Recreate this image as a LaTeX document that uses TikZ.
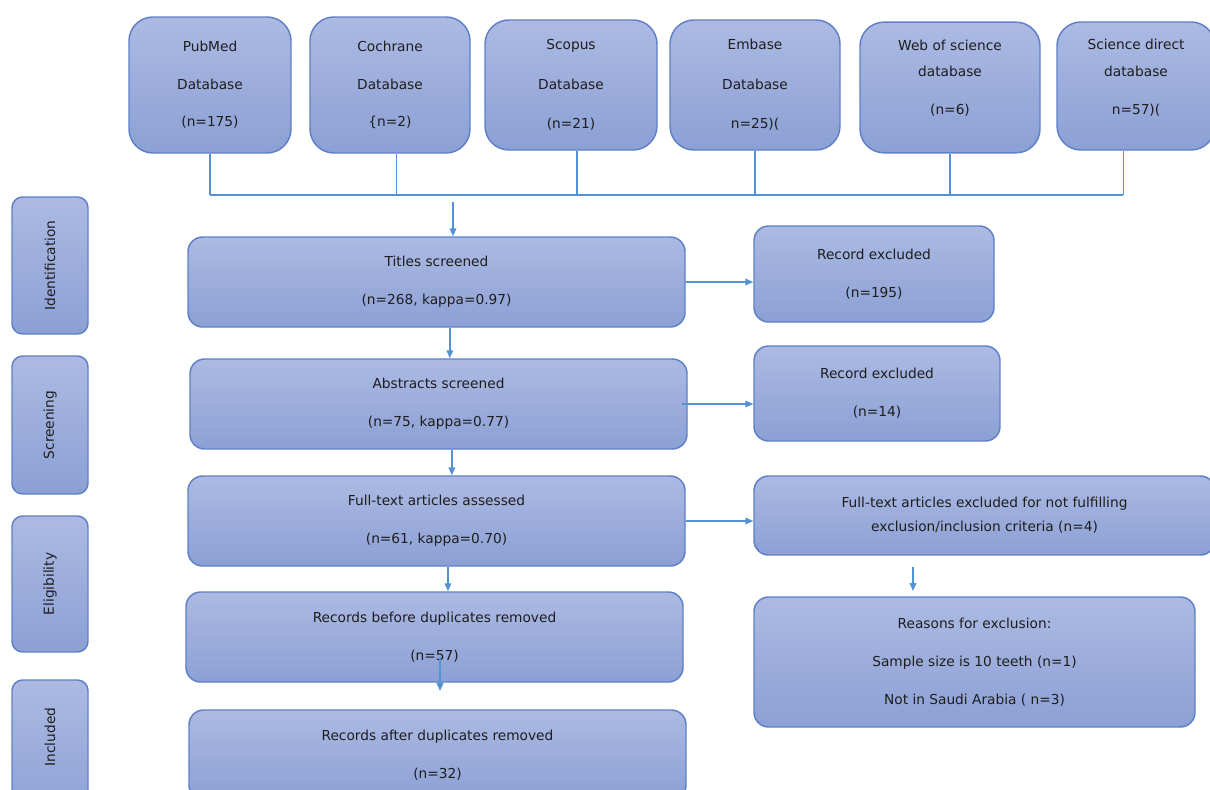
\documentclass[tikz,border=0pt]{standalone}
\usepackage{fontspec}
\setmainfont{DejaVu Sans}
\usetikzlibrary{arrows.meta}

\definecolor{boxtop}{RGB}{172,186,227}
\definecolor{boxbot}{RGB}{140,160,213}
\definecolor{boxline}{RGB}{95,128,200}
\definecolor{arrline}{RGB}{84,146,212}
\definecolor{txtgray}{RGB}{30,30,30}

\tikzset{every picture/.style={line width=0.75pt}}
\tikzset{
  flowbox/.style={draw=boxline, line width=1.1pt, top color=boxtop, bottom color=boxbot,
    rounded corners=11pt, align=center, text=txtgray, inner sep=0pt,
    font=\fontsize{10.3}{12.5}\selectfont},
  dbbox/.style={flowbox, rounded corners=18pt},
  sidebox/.style={flowbox, rounded corners=8pt},
  sidetext/.style={rotate=90, text=txtgray, inner sep=0pt, font=\fontsize{10.3}{12.5}\selectfont},
  conn/.style={draw=arrline, line width=1.1pt},
  arr/.style={conn, -{Triangle[length=6pt,width=5pt]}}
}

\begin{document}
\begin{tikzpicture}[x=0.75pt,y=0.75pt,yscale=-1,xscale=1]
        \useasboundingbox (0,0) rectangle (1210,789);
        \fill[white] (0,0) rectangle (1210,789);
        \clip (0,0) rectangle (1210,789);

        %Shape: Rounded Rect -- databases
        \node[dbbox, minimum width=121.5pt, minimum height=102pt] (pubmed) at (210,85) {PubMed\\[16pt]Database\\[15pt](n=175)};
        \node[dbbox, minimum width=120pt, minimum height=102pt] (cochrane) at (390,85) {Cochrane\\[16pt]Database\\[15pt]\{n=2)};
        \node[dbbox, minimum width=129pt, minimum height=97.5pt] (scopus) at (571,85) {Scopus\\[17pt]Database\\[17pt](n=21)};
        \node[dbbox, minimum width=127.5pt, minimum height=97.5pt] (embase) at (755,85) {Embase\\[17pt]Database\\[17pt]n=25)(};
        \node[dbbox, minimum width=135pt, minimum height=98pt] (wos) at (950,87.5) {Web of science\\[7.5pt]database\\[16pt](n=6)\\[3pt]\mbox{}};
        \node[dbbox, minimum width=118.5pt, minimum height=96pt] (scidir) at (1136,86) {Science direct\\[7.5pt]database\\[16pt]n=57)(\\[1pt]\mbox{}};

        %Straight Lines -- collecting bus
        \coordinate (bus) at (0,195);
        \draw[conn] (pubmed.south) -- (pubmed.south |- bus);
        \draw[conn] ([xshift=5pt]cochrane.south) -- ([xshift=5pt]cochrane.south |- bus);
        \draw[conn] ([xshift=4.5pt]scopus.south) -- ([xshift=4.5pt]scopus.south |- bus);
        \draw[conn] (embase.south) -- (embase.south |- bus);
        \draw[conn] (wos.south) -- (wos.south |- bus);
        \draw[conn] ([xshift=-9.5pt]scidir.south) -- ([xshift=-9.5pt]scidir.south |- bus);
        \draw[conn] (pubmed.south |- bus) -- ([xshift=-9.5pt]scidir.south |- bus);

        %Shape: Rounded Rect -- phases
        \node[sidebox, minimum width=57pt, minimum height=102.75pt] (ident) at (50,265.5) {};
        \node[sidetext] (identlbl) at (ident) {Identification};
        \node[sidebox, minimum width=57pt, minimum height=103.5pt] (screen) at (50,425) {};
        \node[sidetext] (screenlbl) at (screen) {Screening};
        \node[sidebox, minimum width=57pt, minimum height=102pt] (elig) at (50,584) {};
        \node[sidetext] (eliglbl) at (elig) {Eligibility};
        \node[sidebox, minimum width=57pt, minimum height=105pt] (incl) at (50,750) {};
        \node[sidetext] (incllbl) at (50,737) {Included};

        %Shape: Rounded Rect -- main flow
        \node[flowbox, minimum width=372.75pt, minimum height=67.5pt] (titles) at (436.5,282) {Titles screened\\[16pt](n=268, kappa=0.97)};
        \node[flowbox, minimum width=372.75pt, minimum height=67.5pt] (abstr) at (438.5,404) {Abstracts screened\\[16pt](n=75, kappa=0.77)};
        \node[flowbox, minimum width=372.75pt, minimum height=67.5pt] (fulltext) at (436.5,521) {Full-text articles assessed\\[16pt](n=61, kappa=0.70)};
        \node[flowbox, minimum width=372.75pt, minimum height=67.5pt] (before) at (434.5,637) {Records before duplicates removed\\[16pt](n=57)};
        \node[flowbox, minimum width=372.75pt, minimum height=67.5pt] (after) at (437.5,755) {Records after duplicates removed\\[16pt](n=32)};

        %Shape: Rounded Rect -- exclusions
        \node[flowbox, minimum width=180pt, minimum height=72pt] (recex1) at (874,274) {Record excluded\\[16pt](n=195)};
        \node[flowbox, minimum width=184.5pt, minimum height=71.25pt] (recex2) at (877,393.5) {Record excluded\\[16pt](n=14)};
        \node[flowbox, minimum width=345.75pt, minimum height=59.25pt] (ftex) at (984.5,515.5) {Full-text articles excluded for not fulfilling\\[5.5pt]exclusion/inclusion criteria (n=4)};
        \node[flowbox, minimum width=330.75pt, minimum height=97.5pt] (reasons) at (974.5,662) {Reasons for exclusion:\\[16pt]Sample size is 10 teeth (n=1)\\[16pt]Not in Saudi Arabia ( n=3)};

        %Arrows
        \coordinate (busout) at (453,202);
        \draw[arr] (busout) -- (busout |- titles.north);
        \draw[arr] (titles.east) -- (recex1.west |- titles.east);
        \draw[arr] ([xshift=10pt]titles.south) -- ([xshift=10pt]titles.south |- abstr.north);
        \draw[arr] ([xshift=-4pt]abstr.east) -- (recex2.west |- abstr.east);
        \draw[arr] ([xshift=10pt]abstr.south) -- ([xshift=10pt]abstr.south |- fulltext.north);
        \draw[arr] (fulltext.east) -- (ftex.west |- fulltext.east);
        \draw[arr] ([xshift=8.6pt]fulltext.south) -- ([xshift=8.6pt]fulltext.south |- before.north);
        \coordinate (dupfrom) at (440,657);
        \coordinate (dupto) at (440,691);
        \draw[arr] (dupfrom) -- (dupto);
        \coordinate (rsnfrom) at (913,567);
        \coordinate (rsnto) at (913,591);
        \draw[arr] (rsnfrom) -- (rsnto);
\end{tikzpicture}
\end{document}
